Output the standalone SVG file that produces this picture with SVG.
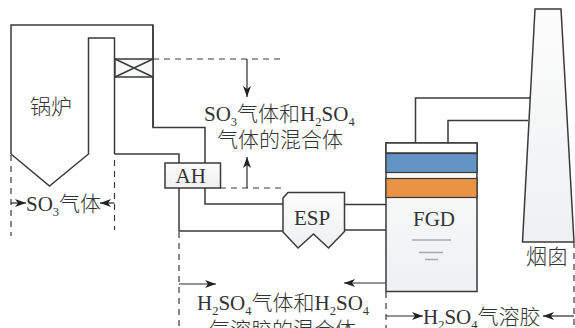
<svg xmlns="http://www.w3.org/2000/svg" width="575" height="328" viewBox="0 0 575 328">
<style>
.l{fill:none;stroke:#3a3a3a;stroke-width:1.5}
.s{fill:#fff;stroke:#3a3a3a;stroke-width:1.5}
.d{fill:none;stroke:#3a3a3a;stroke-width:1.2;stroke-dasharray:6 5}
.a{fill:none;stroke:#2a2a2a;stroke-width:1.2;marker-end:url(#m)}
text{font-family:"Liberation Serif","Noto Sans CJK SC",serif;font-size:21px;fill:#333}
.c{font-family:"Noto Sans CJK SC","Liberation Sans",sans-serif;font-weight:300;font-size:21px}
.u{font-size:12.500px}
.g{fill:none;stroke:#a8a8a8;stroke-width:1.3}
</style>
<defs>
<marker id="m" markerUnits="userSpaceOnUse" markerWidth="12" markerHeight="10" refX="11" refY="4" orient="auto"><path d="M0 0L11 4L0 8L3 4Z" fill="#222"/></marker>
<linearGradient id="w" x1="0" y1="0" x2="0" y2="1"><stop offset="0" stop-color="#fcfcfc"/><stop offset="1" stop-color="#eef0f1"/></linearGradient>
</defs>
<g id="connectors">
<path class="l" d="M153 25V127.500H205V163M114.500 154H179V163"/>
<path class="l" d="M179 188V231H283M205 188V204H283M344 204.500H386M344 230H386M415.500 143V98H530M448 143V120.500H528"/>
<path class="d" d="M153 59H285M220 188H285M11 155V236M114.500 160V230M179 232V328M386 292V328M574 242V328"/>
<path class="a" d="M247 59V97"/>
<path class="a" d="M247 188V157"/>
<path class="a" d="M11 203H26"/>
<path class="a" d="M114.500 203H100"/>
<path class="a" d="M179 284H216"/>
<path class="a" d="M386 283H344"/>
<path class="a" d="M386 316H423"/>
<path class="a" d="M574 316H543"/>
</g>
<g id="boiler">
<path class="l" d="M11 154V25H153V59M153 77V127M11 154L49.500 186L88.500 154V38H114.500V154"/>
<text class="c" x="30" y="114">锅炉</text>
</g>
<g id="exchanger">
<rect x="115" y="59" width="38" height="18" fill="#f6f8f8" stroke="#3a3a3a" stroke-width="1.5"/>
<path class="l" d="M115 59L153 77M115 77L153 59"/>
</g>
<g id="ah">
<rect x="165" y="163" width="55.500" height="25" fill="url(#w)" stroke="#3a3a3a" stroke-width="1.5"/>
<text x="175.500" y="182.500">AH</text>
</g>
<g id="esp">
<path d="M283 198L288 192.500H344.500V231.500L328.500 248L313.500 234L298 248L283 232Z" fill="url(#w)" stroke="#3a3a3a" stroke-width="1.5"/>
<text x="294" y="225">ESP</text>
</g>
<g id="fgd">
<rect x="386" y="143" width="91" height="148.500" fill="url(#w)" stroke="#3a3a3a" stroke-width="1.5"/>
<rect x="386" y="143" width="91" height="10" class="s"/>
<rect x="386" y="153.500" width="91" height="19" fill="#6394c6" stroke="#3a3a3a" stroke-width="1.2"/>
<rect x="386" y="178.500" width="91" height="19" fill="#e99345" stroke="#3a3a3a" stroke-width="1.2"/>
<path class="g" d="M412 240H451M419 252.500H443M425 259.500H438"/>
<text x="413" y="226">FGD</text>
</g>
<g id="stack">
<path d="M535 9H561L574 242H522.500Z" fill="url(#w)" stroke="#3a3a3a" stroke-width="1.5"/>
<text class="c" x="526" y="264">烟囱</text>
</g>
<g id="labels">
<text x="204" y="121">SO<tspan class="u" dy="5">3</tspan><tspan class="c" dy="-5">气体和</tspan>H<tspan class="u" dy="5">2</tspan><tspan dy="-5">SO</tspan><tspan class="u" dy="5">4</tspan></text>
<text class="c" x="217" y="147">气体的混合体</text>
<text x="26" y="210.500">SO<tspan class="u" dy="5">3</tspan><tspan class="c" dy="-5">气体</tspan></text>
<text x="197" y="310">H<tspan class="u" dy="5">2</tspan><tspan dy="-5">SO</tspan><tspan class="u" dy="5">4</tspan><tspan class="c" dy="-5">气体和</tspan>H<tspan class="u" dy="5">2</tspan><tspan dy="-5">SO</tspan><tspan class="u" dy="5">4</tspan></text>
<text class="c" x="209" y="337">气溶胶的混合体</text>
<text x="423" y="323.500">H<tspan class="u" dy="5">2</tspan><tspan dy="-5">SO</tspan><tspan class="u" dy="5">4</tspan><tspan class="c" dy="-5">气溶胶</tspan></text>
</g>
</svg>
